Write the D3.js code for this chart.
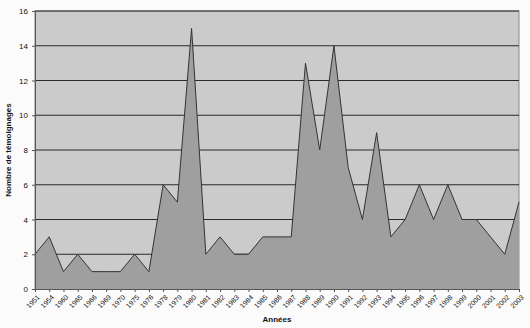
<!DOCTYPE html>
<html>
<head>
    <style>
        body { margin: 0; background: #fbfbfb; }
        text { font-family: "Liberation Sans", Arial, sans-serif; fill: #111; }
    </style>
</head>
<body>
    <div class="viz"></div>
    <script src="https://cdnjs.cloudflare.com/ajax/libs/d3/7.8.5/d3.min.js"></script>
    <script>
        var years = ["1951","1954","1960","1965","1966","1969","1970","1975","1976","1978",
                     "1979","1980","1981","1982","1983","1984","1985","1986","1987","1988",
                     "1989","1990","1991","1992","1993","1994","1995","1996","1997","1998",
                     "1999","2000","2001","2002","2003"];
        var counts = [2,3,1,2,1,1,1,2,1,6,
                      5,15,2,3,2,2,3,3,3,13,
                      8,14,7,4,9,3,4,6,4,6,
                      4,4,3,2,5];
        var yTicks = [0,2,4,6,8,10,12,14,16];

        var width = 530, height = 328,
            margin = {top: 11, right: 11, bottom: 39, left: 35};

        var svg = d3.select('.viz').append('svg')
            .attr('width', width)
            .attr('height', height);

        var x = d3.scalePoint()
            .domain(years)
            .range([margin.left, width - margin.right]);

        var y = d3.scaleLinear()
            .domain([0, 16])
            .range([height - margin.bottom, margin.top]);

        // plot background
        svg.append('rect')
            .attr('x', margin.left)
            .attr('y', margin.top)
            .attr('width', width - margin.left - margin.right)
            .attr('height', height - margin.top - margin.bottom)
            .attr('fill', '#cbcbcb')
            .attr('stroke', '#888')
            .attr('stroke-width', 1);

        // gridlines
        svg.append('g')
            .selectAll('line')
            .data(yTicks.slice(1))
            .enter().append('line')
            .attr('x1', margin.left)
            .attr('x2', width - margin.right)
            .attr('y1', function (d) { return y(d); })
            .attr('y2', function (d) { return y(d); })
            .attr('stroke', '#2a2a2a')
            .attr('stroke-width', 1);

        var data = years.map(function (d, i) { return {year: d, n: counts[i]}; });

        var area = d3.area()
            .x(function (d) { return x(d.year); })
            .y0(y(0))
            .y1(function (d) { return y(d.n); });

        var line = d3.line()
            .x(function (d) { return x(d.year); })
            .y(function (d) { return y(d.n); });

        svg.append('path')
            .datum(data)
            .attr('d', area)
            .attr('fill', '#9f9f9f');

        svg.append('path')
            .datum(data)
            .attr('d', line)
            .attr('fill', 'none')
            .attr('stroke', '#333')
            .attr('stroke-width', 1);

        // y axis
        var yAxis = svg.append('g')
            .attr('transform', 'translate(' + margin.left + ',0)')
            .call(d3.axisLeft(y).tickValues(yTicks).tickSize(3).tickPadding(4));
        yAxis.select('.domain').attr('stroke', '#555');
        yAxis.selectAll('.tick line').attr('stroke', '#555');
        yAxis.selectAll('text').attr('font-size', '8px').attr('fill', '#111');

        // x axis
        var xAxis = svg.append('g')
            .attr('transform', 'translate(0,' + y(0) + ')')
            .call(d3.axisBottom(x).tickSize(3));
        xAxis.select('.domain').attr('stroke', '#555');
        xAxis.selectAll('.tick line').attr('stroke', '#555');
        xAxis.selectAll('text')
            .attr('x', 0)
            .attr('y', 0)
            .attr('dy', '0.35em')
            .attr('font-size', '7px')
            .attr('fill', '#111')
            .attr('text-anchor', 'end')
            .attr('transform', 'translate(3,7) rotate(-45)');

        // titles
        svg.append('text')
            .attr('x', (margin.left + width - margin.right) / 2)
            .attr('y', 322)
            .attr('text-anchor', 'middle')
            .attr('font-size', '8px')
            .attr('font-weight', 'bold')
            .text('Années');

        svg.append('text')
            .attr('transform', 'translate(11,' + ((margin.top + height - margin.bottom) / 2) + ') rotate(-90)')
            .attr('text-anchor', 'middle')
            .attr('font-size', '8px')
            .attr('font-weight', 'bold')
            .text('Nombre de témoignages');
    </script>
</body>
</html>
